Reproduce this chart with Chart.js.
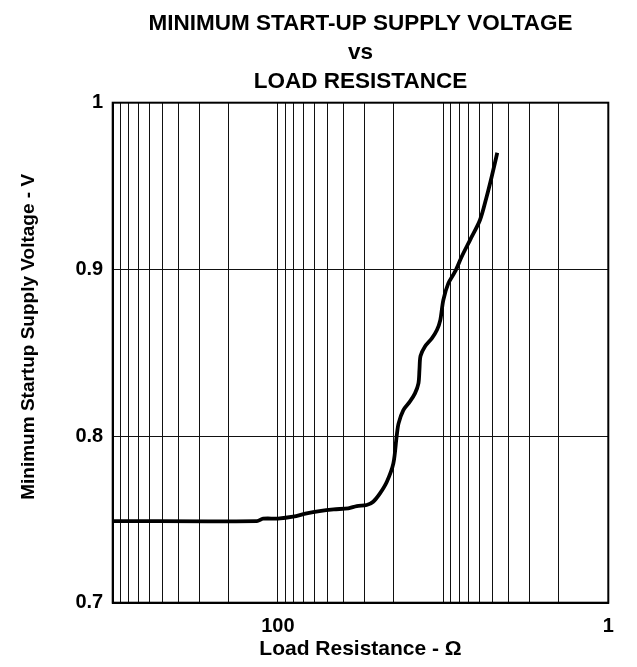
<!DOCTYPE html>
<html><head><meta charset="utf-8">
<script src="https://cdn.jsdelivr.net/npm/chart.js@4/dist/chart.umd.min.js"></script>
<style>html,body{margin:0;padding:0;background:#fff}</style>
</head><body>
<canvas id="c" width="637" height="667"></canvas>
<script>
const titleLines = ['MINIMUM START-UP SUPPLY VOLTAGE', 'vs', 'LOAD RESISTANCE'];
const xAxisTitle = 'Load Resistance - \u03A9';
const yAxisTitle = '      Minimum Startup Supply Voltage - V';

const resistance = [1000, 134, 123, 100, 81, 67, 56, 46, 37.5, 33.3, 29, 26.5, 24.1, 21.9, 20.0, 19.1, 18.6, 17.4, 15.9, 14.8, 14.1, 13.9, 13.7, 12.9, 11.7, 10.9, 10.4, 9.97, 9.3, 8.47, 7.72, 6.87, 5.98, 5.45, 5.08, 4.70];
const voltage    = [0.749, 0.749, 0.7504, 0.7505, 0.7516, 0.7536, 0.755, 0.756, 0.7566, 0.758, 0.7586, 0.7606, 0.7656, 0.7726, 0.7836, 0.800, 0.8076, 0.8156, 0.8206, 0.8256, 0.8316, 0.840, 0.848, 0.8536, 0.8586, 0.8636, 0.8696, 0.8816, 0.8916, 0.8986, 0.9076, 0.9176, 0.9296, 0.9436, 0.9556, 0.970];

const xGridValues = [1,2,3,4,5,6,7,8,9,10,20,30,40,50,60,70,80,90,100,200,300,400,500,600,700,800,900,1000];
const xTickValues = [100, 1];
const xTickLabels = ['100', '1'];
const yTickValues = [0.7, 0.8, 0.9, 1.0];
const yTickLabels = ['0.7', '0.8', '0.9', '1'];

const FONT = "'Liberation Sans', Arial, sans-serif";

const framePlugin = {
  id: 'frame',
  afterDraw(chart) {
    const a = chart.chartArea, ctx = chart.ctx;
    ctx.save();
    ctx.strokeStyle = '#000';
    ctx.lineWidth = 2;
    ctx.strokeRect(a.left, a.top, a.right - a.left, a.bottom - a.top);
    ctx.restore();
  }
};

new Chart(document.getElementById('c'), {
  type: 'line',
  data: {
    datasets: [{
      data: resistance.map((r, i) => ({x: r, y: voltage[i]})),
      borderColor: '#000',
      borderWidth: 3.8,
      pointRadius: 0,
      tension: 0.3,
      fill: false
    }]
  },
  options: {
    responsive: false,
    animation: false,
    devicePixelRatio: 1,
    layout: {padding: {left: 0, top: 0, right: 28.7, bottom: 0}},
    plugins: {
      legend: {display: false},
      tooltip: {enabled: false},
      title: {
        display: true,
        fullSize: false,
        text: titleLines,
        color: '#000',
        font: {family: FONT, size: 22.5, weight: 'bold', lineHeight: 29/22.5},
        padding: {top: 9, bottom: 6.7}
      }
    },
    scales: {
      x: {
        type: 'logarithmic',
        reverse: true,
        min: 1, max: 1000,
        afterBuildTicks: s => { s.ticks = xGridValues.map(v => ({value: v})); },
        afterFit: s => { s.height = 64.3; },
        border: {display: true, color: '#000', width: 2},
        grid: {color: '#111', lineWidth: 1, drawTicks: false},
        ticks: {
          autoSkip: false, maxRotation: 0, minRotation: 0,
          padding: 12,
          color: '#000',
          font: {family: FONT, size: 20, weight: 'bold'},
          callback: v => { const k = xTickValues.indexOf(v); return k >= 0 ? xTickLabels[k] : ''; }
        },
        title: {
          display: true, text: xAxisTitle, color: '#000',
          font: {family: FONT, size: 21, weight: 'bold'},
          padding: {top: 0, bottom: 5}
        }
      },
      y: {
        type: 'linear',
        min: 0.7, max: 1.0,
        afterBuildTicks: s => { s.ticks = yTickValues.map(v => ({value: v})); },
        afterFit: s => { s.width = 112.7; },
        border: {display: true, color: '#000', width: 2},
        grid: {color: '#111', lineWidth: 1, drawTicks: false},
        ticks: {
          padding: 9.5,
          color: '#000',
          font: {family: FONT, size: 20, weight: 'bold'},
          callback: v => { const k = yTickValues.findIndex(t => Math.abs(t - v) < 1e-9); return k >= 0 ? yTickLabels[k] : ''; }
        },
        title: {
          display: true, text: yAxisTitle, color: '#000',
          font: {family: FONT, size: 19, weight: 'bold'},
          padding: {top: 17, bottom: 0}
        }
      }
    }
  },
  plugins: [framePlugin]
});
</script>
</body></html>
